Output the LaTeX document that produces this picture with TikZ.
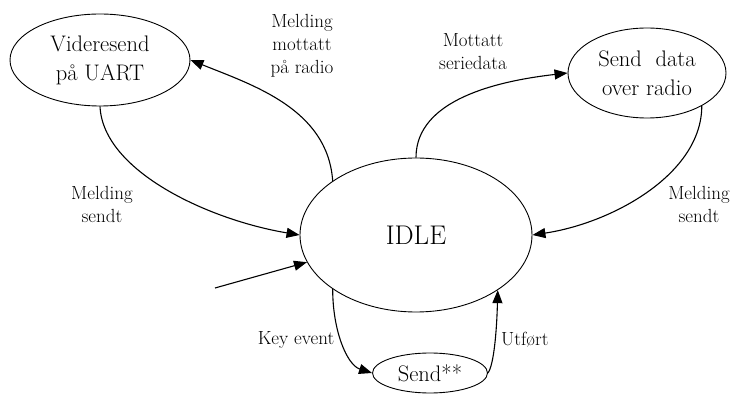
\documentclass[tikz,border=0pt]{standalone}
\usepackage{fontspec}
\usetikzlibrary{shapes.geometric,arrows.meta}
\begin{document}
\begin{tikzpicture}[x=1pt,y=1pt,
  state/.style={draw,ellipse,line width=0.9pt,inner sep=0pt,align=center,font=\fontsize{22.5}{29}\selectfont},
  lbl/.style={inner sep=0pt,align=center,font=\fontsize{19}{23}\selectfont},
  arr/.style={line width=1.1pt,-{Triangle[length=13pt,width=10pt]}}]
\useasboundingbox (0,0) rectangle (732,394);
\node[state,minimum width=180,minimum height=92] (vr) at (100,334) {Videresend\\på UART};
\node[state,minimum width=158,minimum height=90] (sd) at (647,321) {Send\ \ data\\over radio};
\node[state,minimum width=232,minimum height=154,font=\fontsize{27}{30}\selectfont] (idle) at (416,159) {IDLE};
\node[state,minimum width=115,minimum height=40] (snd) at (430,21) {Send**};
\coordinate (start) at (215,106);
\draw[arr] (idle.147) .. controls +(-5,72) and +(62,-25) .. (vr.east);
\draw[arr] (vr.south) .. controls +(3,-65) and +(-90,15) .. (idle.west);
\draw[arr] (idle.north) .. controls +(0,58) and +(-70,-8) .. (sd.west);
\draw[arr] (sd.-31) .. controls +(0,-68) and +(80,12) .. (idle.east);
\draw[arr] (start) -- (idle.194);
\draw[arr] (idle.213) .. controls +(0,-42) and +(-25,8) .. (snd.west);
\draw[arr] (snd.east) .. controls +(6,8) and +(-1,-40) .. (idle.-34);
\node[lbl] (l1) at (302,348) {Melding\\mottatt\\på radio};
\node[lbl] (l2) at (473,342) {Mottatt\\seriedata};
\node[lbl] (l3) at (102,190) {Melding\\sendt};
\node[lbl] (l4) at (699,190) {Melding\\sendt};
\node[lbl] (l5) at (296,54) {Key event};
\node[lbl,anchor=west] (l6) at (501,54) {Utført};
\end{tikzpicture}
\end{document}
